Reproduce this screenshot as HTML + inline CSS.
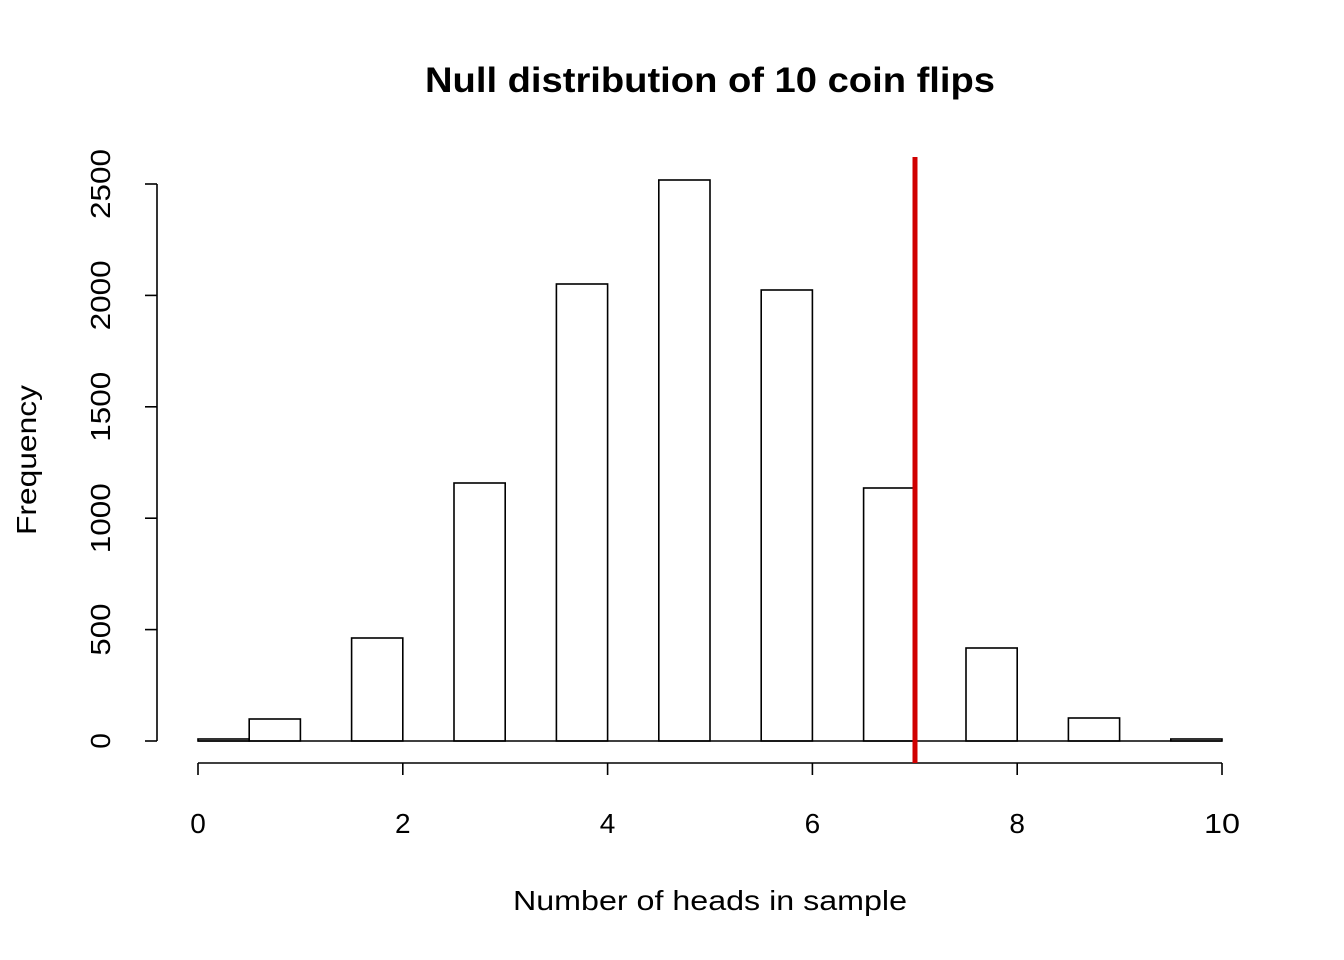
<!DOCTYPE html>
<html><head><meta charset="utf-8"><style>body{margin:0;background:#fff}svg{display:block}</style></head>
<body>
<svg width="1344" height="960" viewBox="0 0 1344 960" xmlns="http://www.w3.org/2000/svg" font-family="Liberation Sans, Arial, sans-serif">
<rect width="1344" height="960" fill="#fff"/>
<text x="710" y="92" font-size="35" font-weight="bold" text-anchor="middle" textLength="570" lengthAdjust="spacingAndGlyphs">Null distribution of 10 coin flips</text>
<g fill="none" stroke="#000" stroke-width="1.6">
<line x1="198" y1="741" x2="1222" y2="741"/>
<rect x="198" y="739" width="51.2" height="2"/>
<rect x="249.2" y="719" width="51.2" height="22"/>
<rect x="351.6" y="638" width="51.2" height="103"/>
<rect x="454" y="483" width="51.2" height="258"/>
<rect x="556.4" y="284" width="51.2" height="457"/>
<rect x="658.8" y="180" width="51.2" height="561"/>
<rect x="761.2" y="290" width="51.2" height="451"/>
<rect x="863.6" y="488" width="51.2" height="253"/>
<rect x="966" y="648" width="51.2" height="93"/>
<rect x="1068.4" y="718" width="51.2" height="23"/>
<rect x="1170.8" y="739" width="51.2" height="2"/>
<line x1="157" y1="741" x2="157" y2="184"/>
<line x1="145" y1="741" x2="157" y2="741"/>
<line x1="145" y1="629.6" x2="157" y2="629.6"/>
<line x1="145" y1="518.2" x2="157" y2="518.2"/>
<line x1="145" y1="406.8" x2="157" y2="406.8"/>
<line x1="145" y1="295.4" x2="157" y2="295.4"/>
<line x1="145" y1="184" x2="157" y2="184"/>
<line x1="198" y1="763" x2="1222" y2="763"/>
<line x1="198" y1="763" x2="198" y2="775"/>
<line x1="402.8" y1="763" x2="402.8" y2="775"/>
<line x1="607.6" y1="763" x2="607.6" y2="775"/>
<line x1="812.4" y1="763" x2="812.4" y2="775"/>
<line x1="1017.2" y1="763" x2="1017.2" y2="775"/>
<line x1="1222" y1="763" x2="1222" y2="775"/>
</g>
<line x1="915" y1="157" x2="915" y2="763" stroke="#d00000" stroke-width="5"/>
<g font-size="28" text-anchor="middle">
<text x="198" y="833">0</text>
<text x="402.8" y="833">2</text>
<text x="607.6" y="833">4</text>
<text x="812.4" y="833">6</text>
<text x="1017.2" y="833">8</text>
<text x="1222" y="833" textLength="36" lengthAdjust="spacingAndGlyphs">10</text>
<g transform="translate(110,0)">
<text transform="translate(0,741) rotate(-90)">0</text>
<text transform="translate(0,629.6) rotate(-90)" textLength="52" lengthAdjust="spacingAndGlyphs">500</text>
<text transform="translate(0,518.2) rotate(-90)" textLength="70" lengthAdjust="spacingAndGlyphs">1000</text>
<text transform="translate(0,406.8) rotate(-90)" textLength="70" lengthAdjust="spacingAndGlyphs">1500</text>
<text transform="translate(0,295.4) rotate(-90)" textLength="70" lengthAdjust="spacingAndGlyphs">2000</text>
<text transform="translate(0,184) rotate(-90)" textLength="70" lengthAdjust="spacingAndGlyphs">2500</text>
</g>
<text x="710" y="910" textLength="394" lengthAdjust="spacingAndGlyphs">Number of heads in sample</text>
<text transform="translate(36,460) rotate(-90)" textLength="150" lengthAdjust="spacingAndGlyphs">Frequency</text>
</g>
</svg>
</body></html>
